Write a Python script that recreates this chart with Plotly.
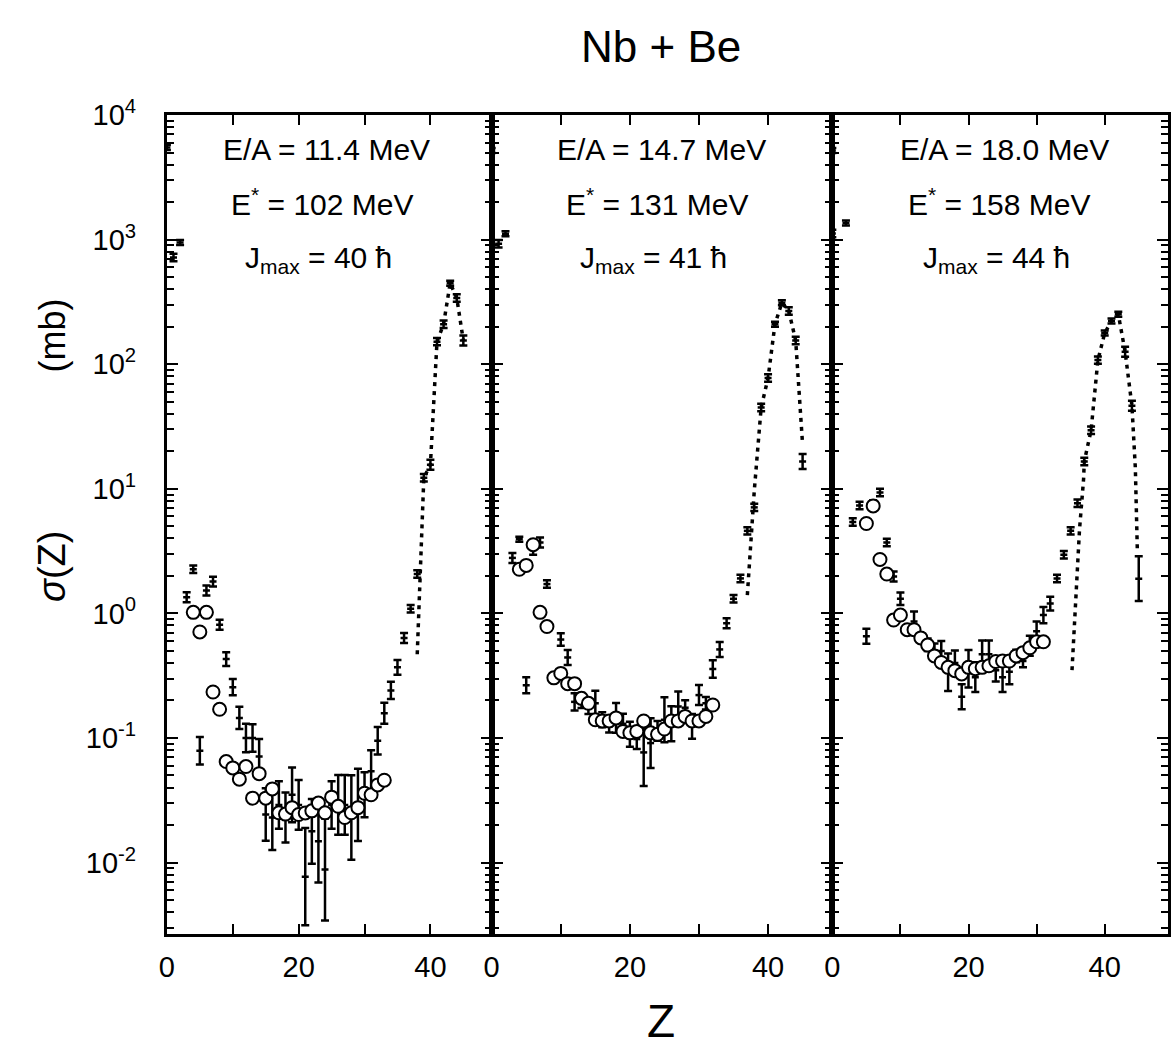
import plotly.graph_objects as go

# ---------------- panel labels ----------------
panel_ea = ["E/A = 11.4 MeV", "E/A = 14.7 MeV", "E/A = 18.0 MeV"]
panel_estar = ["102", "131", "158"]
panel_jmax = ["40", "41", "44"]

# ---------------- Panel 1 (11.4 MeV) ----------------
p1_bar_z = [0, 1, 2, 3, 4, 5, 6, 7, 8, 9, 10, 11, 12, 13, 14, 15, 16, 17, 18, 19, 20,
            21, 22, 23, 24, 25, 26, 27, 28, 29, 30, 31, 32, 33, 34, 35, 36, 37, 38,
            39, 40, 41, 42, 43, 44, 45]
p1_bar_val = [5500, 720, 950, 1.35, 2.26, 0.079, 1.53, 1.80, 0.81, 0.43, 0.256, 0.145,
              0.10, 0.10, 0.071, 0.0243, 0.023, 0.029, 0.023, 0.035, 0.029, 0.0077,
              0.0178, 0.0148, 0.0088, 0.029, 0.029, 0.029, 0.023, 0.029, 0.035, 0.054,
              0.095, 0.158, 0.241, 0.369, 0.636, 1.09, 2.07, 12.3, 15.6, 152, 210, 448,
              341, 155]
p1_bar_dlog = [0.02, 0.03, 0.02, 0.04, 0.03, 0.11, 0.04, 0.04, 0.04, 0.055, 0.065, 0.09,
               0.115, 0.11, 0.14, 0.21, 0.26, 0.19, 0.20, 0.22, 0.20, 0.39, 0.26, 0.33,
               0.41, 0.19, 0.24, 0.24, 0.34, 0.29, 0.18, 0.17, 0.11, 0.085, 0.07, 0.06,
               0.04, 0.03, 0.03, 0.03, 0.04, 0.03, 0.03, 0.02, 0.03, 0.04]
p1_circ_z = [4, 5, 6, 7, 8, 9, 10, 11, 12, 13, 14, 15, 16, 17, 18, 19, 20, 21, 22, 23,
             24, 25, 26, 27, 28, 29, 30, 31, 32, 33]
p1_circ_val = [1.02, 0.71, 1.02, 0.234, 0.17, 0.0647, 0.0575, 0.0467, 0.059, 0.0329,
               0.0517, 0.0329, 0.039, 0.0251, 0.0245, 0.0276, 0.0243, 0.025, 0.026, 0.030,
               0.0251, 0.0335, 0.0283, 0.023, 0.0251, 0.0276, 0.036, 0.035, 0.042, 0.0458]
p1_fit_z = [38.0, 38.6, 39, 40, 41, 42, 43, 44, 45]
p1_fit_val = [0.47, 3.3, 12.3, 15.6, 152, 210, 448, 341, 155]

# ---------------- Panel 2 (14.7 MeV) ----------------
p2_bar_z = [0, 1, 2, 3, 4, 5, 6, 7, 8, 10, 11, 12, 13, 14, 15, 16, 17, 18, 19, 20, 21,
            22, 23, 24, 25, 26, 27, 28, 29, 30, 31, 32, 33, 34, 35, 36, 37, 38, 39, 40,
            41, 42, 43, 44, 45]
p2_bar_val = [5200, 930, 1115, 2.79, 3.94, 0.265, 3.25, 3.71, 1.72, 0.617, 0.443, 0.195,
              0.20, 0.179, 0.19, 0.14, 0.124, 0.145, 0.13, 0.107, 0.098, 0.0766, 0.091,
              0.114, 0.14, 0.13, 0.179, 0.175, 0.124, 0.221, 0.19, 0.358, 0.514, 0.834,
              1.31, 1.91, 4.6, 7.1, 45, 77.6, 210, 312, 268, 155, 16.6]
p2_bar_dlog = [0.02, 0.03, 0.02, 0.04, 0.02, 0.065, 0.04, 0.04, 0.03, 0.05, 0.06, 0.07,
               0.06, 0.06, 0.10, 0.06, 0.05, 0.12, 0.08, 0.10, 0.08, 0.27, 0.20, 0.08,
               0.18, 0.14, 0.12, 0.06, 0.10, 0.08, 0.05, 0.07, 0.06, 0.04, 0.03, 0.03,
               0.03, 0.03, 0.03, 0.03, 0.02, 0.02, 0.03, 0.03, 0.06]
p2_circ_z = [4, 5, 6, 7, 8, 9, 10, 11, 12, 13, 14, 15, 16, 17, 18, 19, 20, 21, 22, 23,
             24, 25, 26, 27, 28, 29, 30, 31, 32]
p2_circ_val = [2.26, 2.43, 3.56, 1.02, 0.785, 0.304, 0.33, 0.273, 0.273, 0.208, 0.19,
               0.14, 0.137, 0.137, 0.145, 0.113, 0.11, 0.113, 0.137, 0.11, 0.107, 0.118,
               0.137, 0.137, 0.149, 0.137, 0.137, 0.149, 0.184]
p2_fit_z = [37, 38, 39, 40, 41, 42, 43, 44, 45]
p2_fit_val = [1.40, 9.6, 45, 77.6, 210, 312, 268, 155, 22.5]

# ---------------- Panel 3 (18.0 MeV) ----------------
p3_bar_z = [0, 0, 2, 3, 4, 5, 6, 7, 8, 9, 10, 12, 14, 15, 16, 17, 18, 19, 20, 21, 22,
            23, 24, 25, 26, 27, 28, 29, 30, 31, 32, 33, 34, 35, 36, 37, 38, 39, 40, 41,
            42, 43, 44, 45]
p3_bar_val = [5200, 1120, 1360, 5.43, 7.35, 0.655, 7.57, 9.35, 3.71, 1.98, 1.31, 0.86,
              0.56, 0.50, 0.50, 0.337, 0.40, 0.214, 0.36, 0.308, 0.47, 0.47, 0.35, 0.308,
              0.34, 0.456, 0.415, 0.55, 0.718, 0.97, 1.2, 1.91, 2.96, 4.6, 7.66, 16.6,
              29.5, 108, 178, 223, 252, 126, 46.5, 1.9]
p3_bar_dlog = [0.02, 0.03, 0.02, 0.03, 0.03, 0.06, 0.03, 0.03, 0.03, 0.04, 0.05, 0.08,
               0.05, 0.06, 0.08, 0.15, 0.10, 0.10, 0.15, 0.12, 0.11, 0.11, 0.09, 0.12,
               0.10, 0.05, 0.05, 0.08, 0.08, 0.065, 0.055, 0.03, 0.03, 0.03, 0.03, 0.03,
               0.03, 0.03, 0.02, 0.02, 0.02, 0.04, 0.04, 0.18]
p3_circ_z = [5, 6, 7, 8, 9, 10, 11, 12, 13, 14, 15, 16, 17, 18, 19, 20, 21, 22, 23, 24,
             25, 26, 27, 28, 29, 30, 31]
p3_circ_val = [5.27, 7.3, 2.71, 2.07, 0.885, 0.97, 0.74, 0.74, 0.636, 0.557, 0.456, 0.404,
               0.369, 0.347, 0.327, 0.369, 0.36, 0.369, 0.38, 0.411, 0.415, 0.415, 0.456,
               0.484, 0.53, 0.592, 0.592]
p3_fit_z = [35.2, 36.3, 36.9, 37, 38, 39, 40, 41, 42, 43, 44, 44.5, 44.8]
p3_fit_val = [0.35, 4.7, 12, 16.6, 29.5, 108, 178, 223, 252, 126, 46.5, 14.7, 3.1]

# ---------------- axis tick definitions ----------------
y_tick_vals = [1e-2, 1e-1, 1, 10, 100, 1000, 10000]
y_tick_text = ["10<sup>-2</sup>", "10<sup>-1</sup>", "10<sup>0</sup>", "10<sup>1</sup>",
               "10<sup>2</sup>", "10<sup>3</sup>", "10<sup>4</sup>"]
x_tick_vals = [0, 20, 40]
x_tick_text = ["0", "20", "40"]
x_minor_vals = [10, 30]

panels = [
    (p1_bar_z, p1_bar_val, p1_bar_dlog, p1_circ_z, p1_circ_val, p1_fit_z, p1_fit_val),
    (p2_bar_z, p2_bar_val, p2_bar_dlog, p2_circ_z, p2_circ_val, p2_fit_z, p2_fit_val),
    (p3_bar_z, p3_bar_val, p3_bar_dlog, p3_circ_z, p3_circ_val, p3_fit_z, p3_fit_val),
]

W, H = 1171, 1046
FONT = "Liberation Sans, Arial, sans-serif"
x_domains_px = [(160, 487), (487, 830), (830, 1168)]
y_top_px, y_bot_px = 97, 932
y_range = [-2.575, 4.0]
x_range = [0, 49.3]

fig = go.Figure()

for i, (bz, bv, bd, cz, cv, fz, fv) in enumerate(panels):
    xa = "x" if i == 0 else f"x{i+1}"
    ya = "y" if i == 0 else f"y{i+1}"
    err_p = [v * (10 ** d - 1) for v, d in zip(bv, bd)]
    err_m = [v * (1 - 10 ** (-d)) for v, d in zip(bv, bd)]
    fig.add_trace(go.Scatter(x=fz, y=fv, mode="lines", xaxis=xa, yaxis=ya,
                             line=dict(color="black", width=3.5, dash="4px,5px"),
                             showlegend=False, hoverinfo="skip"))
    fig.add_trace(go.Scatter(x=bz, y=bv, mode="markers", xaxis=xa, yaxis=ya,
                             marker=dict(symbol="line-ew", size=5, color="black",
                                         line=dict(color="black", width=2.5)),
                             error_y=dict(type="data", symmetric=False, array=err_p,
                                          arrayminus=err_m, color="black",
                                          thickness=2.5, width=4),
                             showlegend=False))
    fig.add_trace(go.Scatter(x=cz, y=cv, mode="markers", xaxis=xa, yaxis=ya,
                             marker=dict(symbol="circle", size=13, color="white",
                                         line=dict(color="black", width=2)),
                             showlegend=False))

minor_y = [k * 10 ** n for n in range(-3, 4) for k in range(2, 10)
           if 10 ** y_range[0] <= k * 10 ** n <= 10 ** y_range[1]]

layout = dict(width=W, height=H, margin=dict(l=0, r=0, t=0, b=0),
              paper_bgcolor="white", plot_bgcolor="white", showlegend=False,
              font=dict(family=FONT, color="black"))

for i in range(3):
    xk = "xaxis" if i == 0 else f"xaxis{i+1}"
    yk = "yaxis" if i == 0 else f"yaxis{i+1}"
    x0, x1 = x_domains_px[i]
    layout[xk] = dict(domain=[x0 / W, x1 / W], range=x_range,
                      anchor="y" if i == 0 else f"y{i+1}",
                      showgrid=False, zeroline=False, showline=True, linewidth=3,
                      linecolor="black", mirror="ticks", ticks="inside", ticklen=10,
                      tickwidth=2, tickcolor="black", tickmode="array",
                      tickvals=x_tick_vals, ticktext=x_tick_text,
                      tickfont=dict(size=29, family=FONT), ticklabelstandoff=5,
                      minor=dict(tickmode="array", tickvals=x_minor_vals, ticks="inside",
                                 ticklen=10, tickwidth=2, tickcolor="black",
                                 showgrid=False))
    layout[yk] = dict(domain=[1 - y_bot_px / H, 1 - y_top_px / H], type="log",
                      range=y_range, anchor="x" if i == 0 else f"x{i+1}",
                      showgrid=False, zeroline=False, showline=True, linewidth=3,
                      linecolor="black", mirror="ticks", ticks="inside", ticklen=11,
                      tickwidth=2, tickcolor="black", tickmode="array",
                      tickvals=y_tick_vals, ticktext=y_tick_text,
                      showticklabels=(i == 0),
                      tickfont=dict(size=29, family=FONT), ticklabelstandoff=22,
                      minor=dict(tickmode="array", tickvals=minor_y, ticks="inside",
                                 ticklen=7, tickwidth=1.5, tickcolor="black",
                                 showgrid=False))

fig.update_layout(**layout)


def add_text(ann, text, px, py, size, angle=0):
    ann.append(dict(text=text, x=px / W, y=1 - py / H, xref="paper", yref="paper",
                    showarrow=False, textangle=angle, font=dict(size=size, family=FONT),
                    xanchor="center", yanchor="middle"))


ann = []
add_text(ann, "Nb + Be", 657, 27, 44)
add_text(ann, "Z", 657, 1021, 46)
add_text(ann, "<i>σ</i>(Z)", 45, 557, 38, -90)
add_text(ann, "(mb)", 45, 322, 36, -90)
centers = [321, 658, 1003]
for i in range(3):
    add_text(ann, panel_ea[i], centers[i], 132, 30)
    add_text(ann, "E<sup>*</sup> = " + panel_estar[i] + " MeV", centers[i] - 5, 186, 30)
    add_text(ann, "J<sub>max</sub> = " + panel_jmax[i] + " ħ", centers[i] - 8, 244, 30)
fig.update_layout(annotations=ann)

fig.write_html("out.html")
